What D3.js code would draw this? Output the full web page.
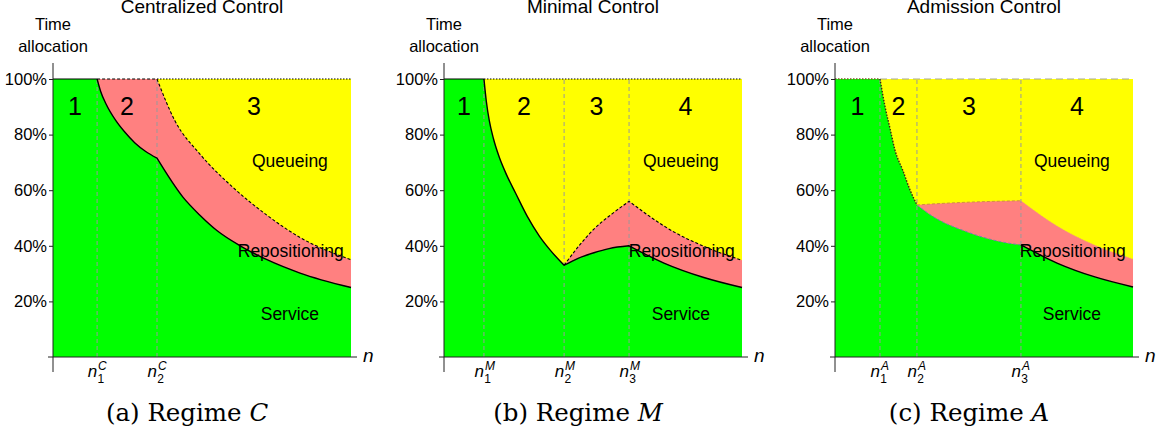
<!DOCTYPE html>
<html>
<head>
<meta charset="utf-8">
<title>Time allocation regimes</title>
<script src="https://cdn.jsdelivr.net/npm/d3@7"></script>
<style>
  body { margin: 0; background: #fff; }
  text { font-family: "Liberation Sans", Arial, Helvetica, sans-serif; fill: #000; }
  .cap { font-family: "DejaVu Serif", "Liberation Serif", serif; }
</style>
</head>
<body>
<script>
// ---- data (n in arbitrary units 0..100, share in %) ----
var titles = ["Centralized Control", "Minimal Control", "Admission Control"];
var regimeLetters = ["C", "M", "A"];
var captionTags = ["(a)", "(b)", "(c)"];
var yTicks = [20, 40, 60, 80, 100];

var breaksC = [14.8, 34.9];
var breaksM = [13.4, 40.3, 62.1];
var breaksA = [15.1, 27.5, 62.4];

// service share (green) — upper edge of the green area
var serviceC = [[0,100],[14.8,100],[16,95.5],[17.8,91],[21.1,85],[24,81],[27.5,77],[31,74],[34.9,71.5],
                [43.6,57.5],[49.3,51],[55,45.5],[62.8,40],[71.8,35],[82.9,30.2],[100,25]];
var serviceM = [[0,100],[13.4,100],[14.2,92],[15.2,85],[16.6,78.5],[18.5,72],[21,65.5],[24,59],[28,50.5],
                [32,43.5],[36,38],[40.3,33],[45,35.5],[50.3,37.5],[55.4,39],[62.1,40],[73.8,33.8],[87.2,28.6],[100,25]];
var serviceA = [[0,100],[15.1,100],[16.8,90],[18.5,82],[20.1,74.5],[22.8,67],[25.2,60],[27.5,54.7],
                [32.9,50.5],[44.3,45],[55.4,41.5],[62.4,40.3],[74.5,33.8],[87.2,28.8],[100,25.2]];

// service + repositioning (upper edge of the pink area), from the second threshold on
var queueC = [[0,100],[34.9,100],[40.9,85],[49.3,73],[60.4,61],[71.8,51],[82.9,43],[100,35]];
var queueM = [[40.3,33],[45.3,40],[50.3,46],[56.4,51.5],[62.1,56],[76.8,45.2],[87.2,39.8],[100,34.8]];
var queueA = [[27.5,54.7],[36.9,55.3],[45,55.7],[53.7,56],[62.4,56.2],[74.5,47.1],[87.2,40.2],[100,35.2]];

var areaLabels = ["Queueing", "Repositioning", "Service"];

// ---- layout ----
var w = 1163, h = 435;
var panelLeft = [53, 444, 835];
var plotW = 298;
var yBottom = 357, yTop = 79;

var svg = d3.select("body").append("svg")
    .attr("width", w)
    .attr("height", h);

var y = d3.scaleLinear().domain([0, 100]).range([yBottom, yTop]);

var panels = [
  { service: serviceC, queue: queueC, breaks: breaksC },
  { service: serviceM, queue: serviceM.filter(function(p){ return p[0] < breaksM[1]; }).concat(queueM), breaks: breaksM },
  { service: serviceA, queue: serviceA.filter(function(p){ return p[0] < breaksA[1]; }).concat(queueA), breaks: breaksA }
];

// line styles per panel: [which curve, from, to, colour, width, dash]
var styles = [
  [["top", 0, breaksC[0], "#000", 1.2, null],
   ["top", breaksC[0], breaksC[1], "#000", 1.1, "3,2"],
   ["top", breaksC[1], 100, "#000", 1.1, "1.5,1.5"],
   ["service", breaksC[0], 100, "#000", 1.4, null],
   ["queue", breaksC[1], 100, "#000", 1.1, "3,2"]],
  [["top", 0, breaksM[0], "#000", 1.2, null],
   ["top", breaksM[0], 100, "#000", 1.1, "1.5,1.5"],
   ["service", breaksM[0], 100, "#000", 1.4, null],
   ["queue", breaksM[1], 100, "#000", 1.1, "3,2"]],
  [["top", 0, breaksA[0], "#7b5b23", 1.3, "1.5,1.5"],
   ["top", breaksA[0], 100, "#a8a890", 1, "7,4"],
   ["service", breaksA[0], breaksA[1], "#3a2a10", 1.4, "1.5,1.5"],
   ["service", breaksA[1], breaksA[2], "#6f7fb0", 1, "3,2"],
   ["service", breaksA[2], 100, "#000", 1.4, null],
   ["queue", breaksA[1], breaksA[2], "#d09040", 1, "3,2"],
   ["queue", breaksA[2], 100, "#f0a070", 0.8, "1,1"]]
];

// linear value of a polyline at n (only used to close pieces at a cut)
function valueAt(pts, n) {
  for (var i = 0; i < pts.length - 1; i++) {
    if (n >= pts[i][0] && n <= pts[i+1][0]) {
      var t = (n - pts[i][0]) / (pts[i+1][0] - pts[i][0] || 1);
      return pts[i][1] + t * (pts[i+1][1] - pts[i][1]);
    }
  }
  return pts[pts.length-1][1];
}

function piece(pts, a, b) {
  var s = pts.filter(function(p){ return p[0] > a + 1e-9 && p[0] < b - 1e-9; });
  return [[a, valueAt(pts, a)]].concat(s, [[b, valueAt(pts, b)]]);
}

// smooth path that keeps the kinks at the thresholds
function curveD(x, pts, breaks) {
  var lo = pts[0][0], hi = pts[pts.length-1][0];
  var cuts = [lo].concat(breaks.filter(function(b){ return b > lo + 1e-9 && b < hi - 1e-9; }), [hi]);
  var line = d3.line().x(function(d){ return x(d[0]); }).y(function(d){ return y(d[1]); }).curve(d3.curveMonotoneX);
  var d = "";
  for (var i = 0; i < cuts.length - 1; i++) {
    var part = line(piece(pts, cuts[i], cuts[i+1]));
    d += (d === "" ? part : "L" + part.slice(1));
  }
  return d;
}

function areaD(x, pts, breaks) {
  return curveD(x, pts, breaks) + "L" + x(pts[pts.length-1][0]) + "," + y(0) +
         "L" + x(pts[0][0]) + "," + y(0) + "Z";
}

panels.forEach(function(p, k) {
  var x0 = panelLeft[k];
  var x = d3.scaleLinear().domain([0, 100]).range([x0, x0 + plotW]);
  var g = svg.append("g");
  var top = [[0,100],[100,100]];
  var curves = { top: top, service: p.service, queue: p.queue };

  // fills
  g.append("path").attr("d", areaD(x, top, [])).attr("fill", "#ffff00");
  g.append("path").attr("d", areaD(x, p.queue, p.breaks)).attr("fill", "#ff8080");
  g.append("path").attr("d", areaD(x, p.service, p.breaks)).attr("fill", "#00ff00");

  // threshold guides
  g.selectAll(".guide").data(p.breaks).enter().append("line")
    .attr("x1", function(d){ return x(d); }).attr("x2", function(d){ return x(d); })
    .attr("y1", y(0)).attr("y2", y(100))
    .attr("stroke", "#999").attr("stroke-width", 1).attr("stroke-dasharray", "4,3");

  // boundary lines
  styles[k].forEach(function(s) {
    var pts = piece(curves[s[0]], s[1], s[2]);
    g.append("path")
      .attr("d", curveD(x, pts, p.breaks))
      .attr("fill", "none")
      .attr("stroke", s[3])
      .attr("stroke-width", s[4])
      .attr("stroke-dasharray", s[5]);
  });

  // axes
  g.append("line").attr("x1", x0 - 5).attr("x2", x0 + plotW + 6)
    .attr("y1", y(0)).attr("y2", y(0)).attr("stroke", "#222").attr("stroke-width", 1);
  g.append("line").attr("x1", x0).attr("x2", x0)
    .attr("y1", y(0) + 15).attr("y2", y(100) - 16).attr("stroke", "#222").attr("stroke-width", 1);

  var yAxis = g.append("g").attr("transform", "translate(" + x0 + ",0)")
    .call(d3.axisLeft(y).tickValues(yTicks).tickSize(4).tickPadding(2)
      .tickFormat(function(d){ return d + "%"; }));
  yAxis.select(".domain").remove();
  yAxis.selectAll("line").attr("stroke", "#222");
  yAxis.selectAll("text").attr("font-size", "16.5px")
    .attr("font-family", "Liberation Sans, Arial, sans-serif").attr("fill", "#000");

  // y title
  g.append("text").attr("x", x0).attr("y", 30).attr("text-anchor", "middle")
    .attr("font-size", "16.5px").text("Time");
  g.append("text").attr("x", x0).attr("y", 52).attr("text-anchor", "middle")
    .attr("font-size", "16.5px").text("allocation");

  // n axis label
  g.append("text").attr("x", x0 + 310).attr("y", y(0) + 5).attr("font-size", "19px")
    .attr("font-style", "italic").text("n");

  // threshold labels n_i^R
  p.breaks.forEach(function(b, i) {
    g.append("text").attr("x", x(b)).attr("y", 377).attr("text-anchor", "end")
      .attr("font-size", "17px").attr("font-style", "italic").text("n");
    g.append("text").attr("x", x(b) + 1).attr("y", 370)
      .attr("font-size", "12px").attr("font-style", "italic").text(regimeLetters[k]);
    g.append("text").attr("x", x(b) + 0.3).attr("y", 383)
      .attr("font-size", "12px").text(i + 1);
  });

  // region numbers, centred between thresholds
  var edges = [0].concat(p.breaks, [100]);
  for (var i = 0; i < edges.length - 1; i++) {
    g.append("text").attr("x", x((edges[i] + edges[i+1]) / 2)).attr("y", 115)
      .attr("text-anchor", "middle").attr("font-size", "25px").text(i + 1);
  }

  // area labels
  g.append("text").attr("x", x(79.5)).attr("y", 167).attr("text-anchor", "middle")
    .attr("font-size", "17.5px").text(areaLabels[0]);
  g.append("text").attr("x", x(62)).attr("y", 257)
    .attr("font-size", "17.5px").text(areaLabels[1]);
  g.append("text").attr("x", x(79.5)).attr("y", 320).attr("text-anchor", "middle")
    .attr("font-size", "17.5px").text(areaLabels[2]);

  // panel title
  g.append("text").attr("x", x0 + plotW / 2).attr("y", 13).attr("text-anchor", "middle")
    .attr("font-size", "19px").text(titles[k]);

  // caption
  var cap = g.append("text").attr("class", "cap").attr("x", x0 + 134).attr("y", 421)
    .attr("text-anchor", "middle").attr("font-size", "24.5px");
  cap.append("tspan").text(captionTags[k] + " Regime ");
  cap.append("tspan").attr("font-style", "italic").text(regimeLetters[k]);
});
</script>
</body>
</html>
